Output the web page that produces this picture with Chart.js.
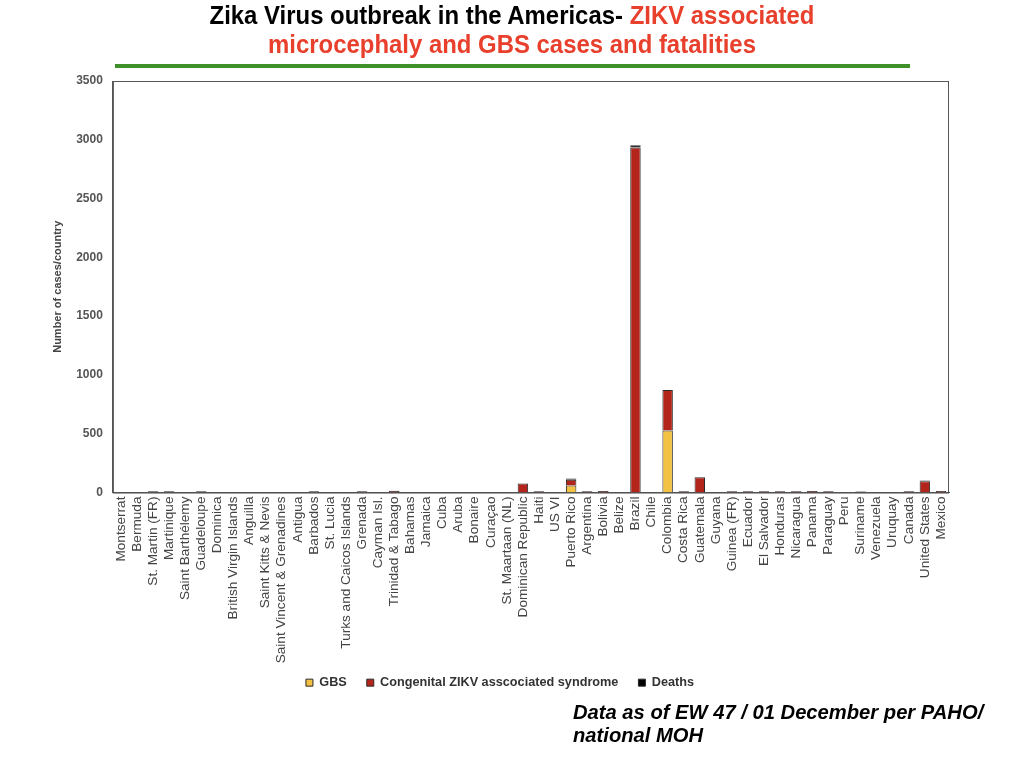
<!DOCTYPE html>
<html>
<head>
<meta charset="utf-8">
<script src="https://cdn.jsdelivr.net/npm/chart.js@4"></script>
<style>
  html, body { margin: 0; padding: 0; background: #fff; }
  #wrap { position: relative; width: 1024px; height: 768px; overflow: hidden; }
  #chart { position: absolute; left: 0; top: 0; }
  #title {
    position: absolute; left: 0; top: 1px; width: 1024px; text-align: center;
    font-family: "Liberation Sans", Arial, sans-serif;
    font-weight: bold; font-size: 26px; line-height: 29px; color: #000;
    transform: scaleX(0.92); transform-origin: 512px 0;
  }
  #title .red { color: #e8402c; }
  #rule { position: absolute; left: 115px; top: 64px; width: 795px; height: 4px; background: #3f8f2a; }
  #note {
    position: absolute; left: 573px; top: 701px;
    font-family: "Liberation Sans", Arial, sans-serif;
    font-weight: bold; font-style: italic; font-size: 20.2px; line-height: 23px; color: #000;
  }
</style>
</head>
<body>
<div id="wrap">
  <canvas id="chart" width="1024" height="768"></canvas>
  <div id="title">Zika Virus outbreak in the Americas- <span class="red">ZIKV associated<br>microcephaly and GBS cases and fatalities</span></div>
  <div id="rule"></div>
  <div id="note">Data as of EW 47 / 01 December per PAHO/<br>national MOH</div>
</div>
<script>
const countries = [
  "Montserrat", "Bermuda", "St. Martin (FR)", "Martinique", "Saint Barthélemy",
  "Guadeloupe", "Dominica", "British Virgin Islands", "Anguilla", "Saint Kitts & Nevis",
  "Saint Vincent & Grenadines", "Antigua", "Barbados", "St. Lucia", "Turks and Caicos Islands",
  "Grenada", "Cayman Isl.", "Trinidad & Tabago", "Bahamas", "Jamaica",
  "Cuba", "Aruba", "Bonaire", "Curaçao", "St. Maartaan (NL)",
  "Dominican Republic", "Haiti", "US VI", "Puerto Rico", "Argentina",
  "Bolivia", "Belize", "Brazil", "Chile", "Colombia",
  "Costa Rica", "Guatemala", "Guyana", "Guinea (FR)", "Ecuador",
  "El Salvador", "Honduras", "Nicaragua", "Panama", "Paraguay",
  "Peru", "Suriname", "Venezuela", "Uruquay", "Canada",
  "United States", "Mexico"
];

// GBS cases
const gbs = [
  0, 0, 0, 0, 0,
  0, 0, 0, 0, 0,
  0, 0, 0, 0, 0,
  0, 0, 0, 0, 0,
  0, 0, 0, 0, 0,
  0, 0, 0, 60, 0,
  0, 0, 0, 0, 527,
  0, 0, 0, 0, 0,
  0, 0, 0, 0, 0,
  0, 0, 0, 0, 0,
  5, 0
];

// Congenital ZIKV associated syndrome
const congenital = [
  0, 0, 10, 10, 0,
  10, 0, 0, 0, 0,
  0, 0, 10, 0, 0,
  10, 0, 15, 0, 0,
  0, 0, 0, 0, 0,
  76, 10, 0, 48, 10,
  14, 0, 2935, 0, 345,
  10, 130, 0, 10, 10,
  10, 10, 10, 14, 10,
  0, 6, 0, 0, 10,
  92, 14
];

// Deaths
const deaths = [
  0, 0, 0, 0, 0,
  0, 0, 0, 0, 0,
  0, 0, 0, 0, 0,
  0, 0, 0, 0, 0,
  0, 0, 0, 0, 0,
  0, 0, 0, 12, 0,
  0, 0, 18, 0, 0,
  0, 0, 0, 0, 0,
  0, 0, 0, 0, 0,
  0, 6, 0, 0, 0,
  6, 0
];

const yTicks = [0, 500, 1000, 1500, 2000, 2500, 3000, 3500];

// box round the plot area
const frame = {
  id: "frame",
  afterDatasetsDraw(chart) {
    const a = chart.chartArea;
    const ctx = chart.ctx;
    ctx.save();
    ctx.strokeStyle = "#555";
    ctx.lineWidth = 1;
    ctx.strokeRect(a.left + 0.5, a.top + 0.5, a.right - a.left - 1, a.bottom - a.top);
    ctx.restore();
  }
};

// pull the legend up a little, closer to the country names
const legendLift = {
  id: "legendLift",
  afterLayout(chart) {
    chart.legend.top -= 11;
    chart.legend.bottom -= 11;
  }
};

const barStyle = { barPercentage: 0.65, categoryPercentage: 1, borderColor: "#2a2a2a", borderWidth: 1 };

new Chart(document.getElementById("chart"), {
  type: "bar",
  data: {
    labels: countries,
    datasets: [
      Object.assign({ label: "GBS", data: gbs, backgroundColor: "#f4c242" }, barStyle),
      Object.assign({ label: "Congenital ZIKV asscociated syndrome", data: congenital, backgroundColor: "#b3251b" }, barStyle),
      Object.assign({ label: "Deaths", data: deaths, backgroundColor: "#000" }, barStyle)
    ]
  },
  options: {
    responsive: false,
    animation: false,
    layout: { padding: { left: 51, right: 75, top: 81, bottom: 58 } },
    plugins: {
      title: { display: false },
      tooltip: { enabled: false },
      legend: {
        position: "bottom",
        labels: {
          boxWidth: 7, boxHeight: 7, padding: 20,
          color: "#333",
          font: { family: "Liberation Sans", size: 12.7, weight: "bold" }
        }
      }
    },
    scales: {
      x: {
        stacked: true,
        grid: { display: false, drawTicks: false },
        border: { color: "#555" },
        ticks: {
          autoSkip: false, minRotation: 90, maxRotation: 90, padding: 4,
          color: "#444",
          font: { family: "Liberation Sans", size: 13.6 }
        }
      },
      y: {
        stacked: true,
        min: 0, max: 3500,
        afterBuildTicks(axis) { axis.ticks = yTicks.map(v => ({ value: v })); },
        grid: { display: false, drawTicks: false },
        border: { color: "#555" },
        ticks: {
          padding: 10,
          color: "#555",
          callback: v => String(v),
          font: { family: "Liberation Sans", size: 12, weight: "bold" }
        },
        title: {
          display: true, text: "Number of cases/country",
          color: "#444",
          font: { family: "Liberation Sans", size: 11, weight: "bold" },
          padding: { top: 0, bottom: 2 }
        }
      }
    }
  },
  plugins: [frame, legendLift]
});
</script>
</body>
</html>
